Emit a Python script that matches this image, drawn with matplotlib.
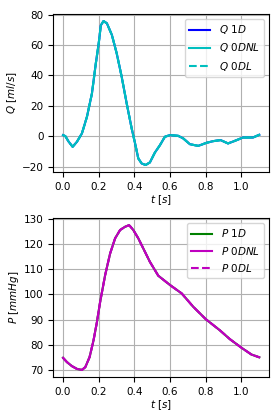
import numpy as np
import matplotlib.pyplot as plt

# flow wave (all three models overlap)
t_q = [0.0, 0.013, 0.032, 0.054, 0.078, 0.106, 0.134, 0.162, 0.184, 0.2, 0.212,
       0.227, 0.246, 0.274, 0.301, 0.329, 0.357, 0.385, 0.404, 0.422, 0.441,
       0.463, 0.487, 0.515, 0.543, 0.571, 0.6, 0.646, 0.674, 0.711, 0.758,
       0.804, 0.841, 0.883, 0.925, 0.963, 1.009, 1.065, 1.1]
q_1d = [0.7, 0.0, -3.7, -7.0, -3.7, 1.8, 12.7, 28.0, 48.0, 61.0, 73.0,
        75.8, 74.3, 66.6, 54.5, 39.0, 21.5, 5.0, -4.8, -14.7, -18.0,
        -19.0, -17.3, -10.8, -6.0, -0.4, 0.7, 0.2, -1.5, -5.3, -6.4,
        -4.4, -3.3, -2.6, -4.8, -3.1, -0.9, -0.9, 0.9]
q_0dnl = q_1d
q_0dl = q_1d

# pressure wave
t_p = [0.0, 0.022, 0.05, 0.078, 0.106, 0.125, 0.149, 0.171, 0.19, 0.208, 0.236,
       0.264, 0.292, 0.32, 0.348, 0.37, 0.376, 0.394, 0.422, 0.45, 0.487, 0.534,
       0.6, 0.665, 0.73, 0.8, 0.879, 0.935, 1.0, 1.056, 1.1]
p_1d = [74.9, 73.2, 71.6, 70.5, 70.1, 71.2, 75.2, 81.8, 89.0, 97.0, 107.6,
        116.2, 122.2, 125.5, 126.8, 127.4, 127.0, 125.5, 122.2, 118.2, 112.9, 107.4,
        103.7, 100.4, 95.1, 90.2, 85.8, 82.3, 78.9, 76.2, 75.1]
p_0dnl = p_1d
p_0dl = p_1d

ticks_t = [0.0, 0.2, 0.4, 0.6, 0.8, 1.0]

plt.rcParams['font.size'] = 7.5
fig = plt.figure(figsize=(2.8, 4.2), dpi=100)
ax1 = fig.add_axes([0.19, 0.59, 0.771, 0.377])
ax2 = fig.add_axes([0.19, 0.102, 0.771, 0.379])

ax1.plot(t_q, q_1d, 'b', lw=1.5, label=r'$Q\ 1D$')
ax1.plot(t_q, q_0dnl, 'c', lw=1.5, label=r'$Q\ 0DNL$')
ax1.plot(t_q, q_0dl, 'c--', lw=1.5, label=r'$Q\ 0DL$')
ax1.set_xlabel(r'$t\ [s]$', labelpad=1)
ax1.set_ylabel(r'$Q\ [ml/s]$', labelpad=2)
ax1.set_xticks(ticks_t)
ax1.set_yticks([-20, 0, 20, 40, 60, 80])
ax1.grid(True)
ax1.legend(loc='upper right')

ax2.plot(t_p, p_1d, 'g', lw=1.5, label=r'$P\ 1D$')
ax2.plot(t_p, p_0dnl, 'm', lw=1.5, label=r'$P\ 0DNL$')
ax2.plot(t_p, p_0dl, 'm--', lw=1.5, label=r'$P\ 0DL$')
ax2.set_xlabel(r'$t\ [s]$', labelpad=1)
ax2.set_ylabel(r'$P\ [mmHg]$', labelpad=2)
ax2.set_xticks(ticks_t)
ax2.set_yticks([70, 80, 90, 100, 110, 120, 130])
ax2.grid(True)
ax2.legend(loc='upper right')

fig.savefig('out.png', dpi=100)
